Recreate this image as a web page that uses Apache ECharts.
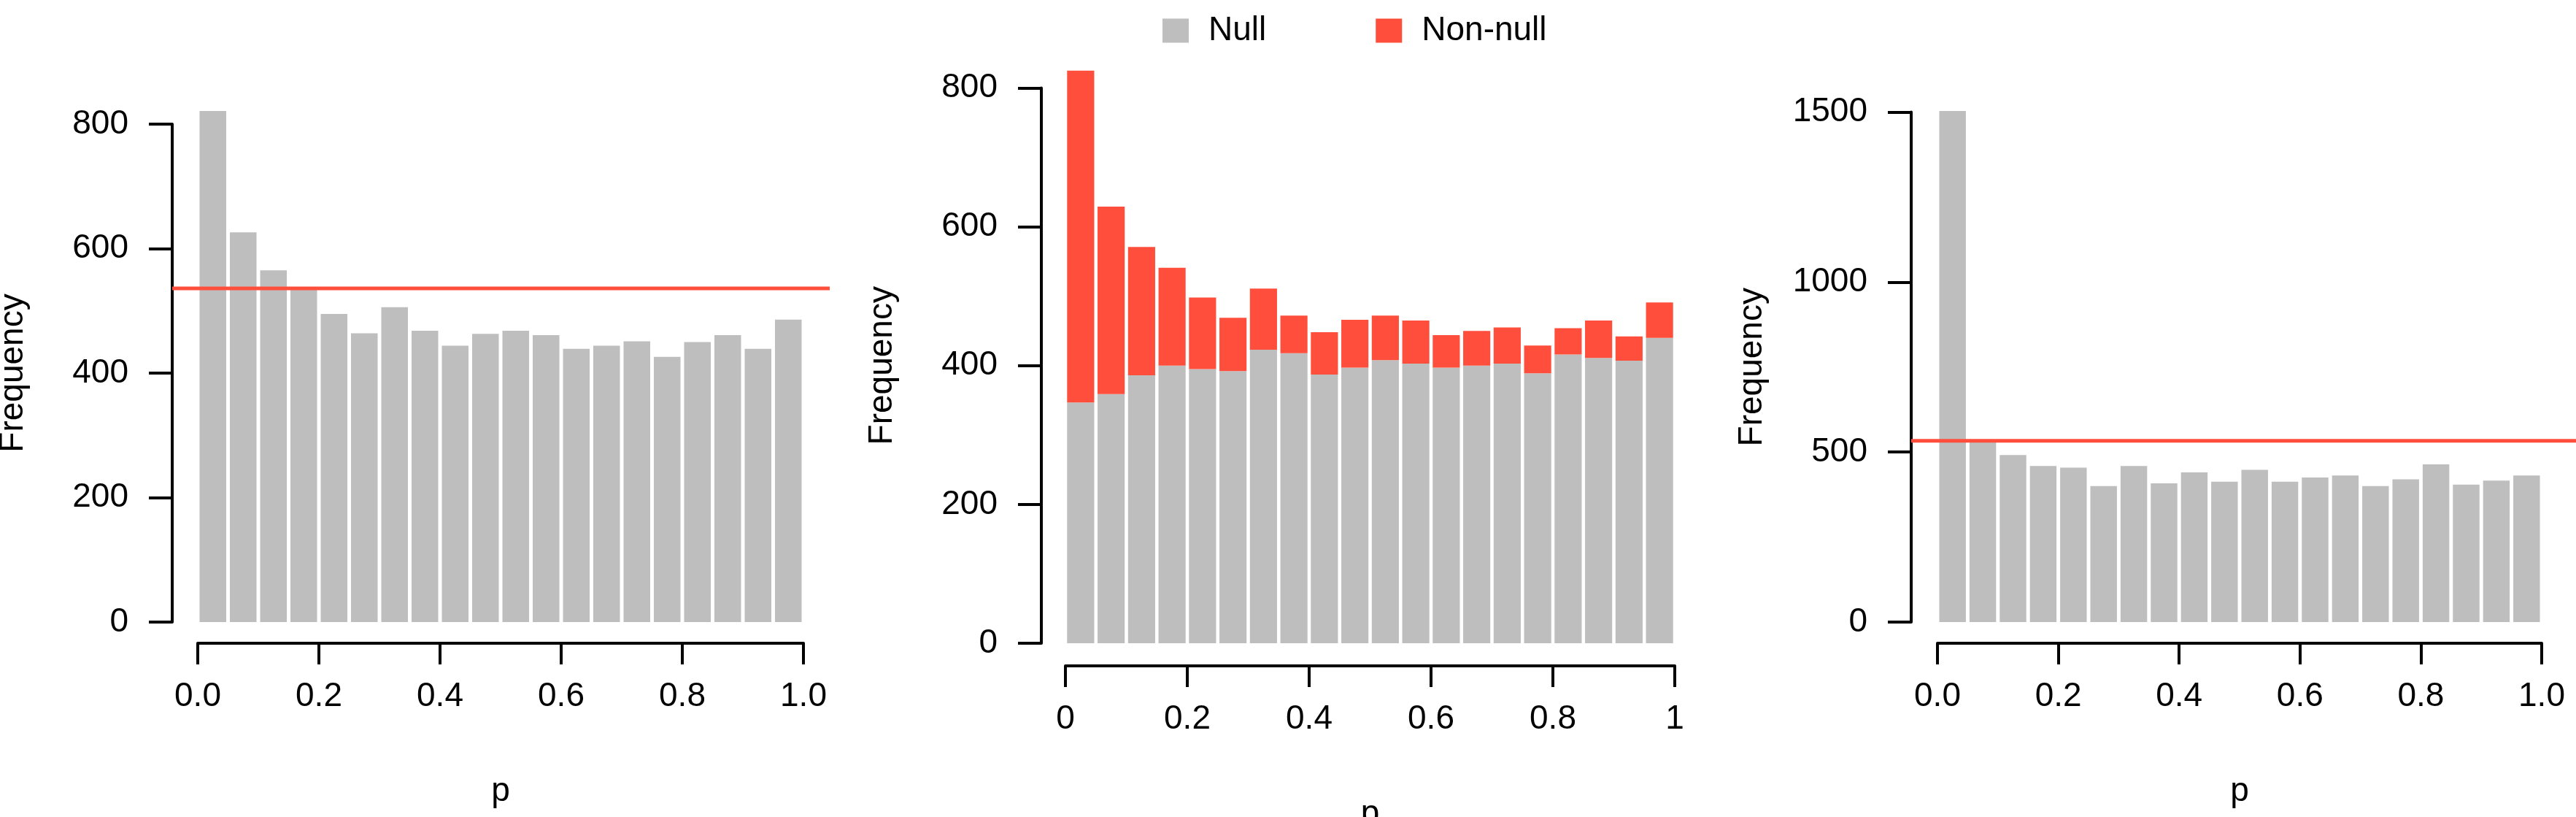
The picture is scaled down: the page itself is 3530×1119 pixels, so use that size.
<!DOCTYPE html>
<html>
<head>
<meta charset="utf-8">
<script src="https://cdn.jsdelivr.net/npm/echarts@6/dist/echarts.min.js"></script>
<style>
  html, body { margin: 0; padding: 0; background: #fff; }
  #main { width: 3530px; height: 1119px; }
</style>
</head>
<body>
<div id="main"></div>
<script>
// ---------- data
var bins = ["1","2","3","4","5","6","7","8","9","10","11","12","13","14","15","16","17","18","19","20"];
var left_freq = [821, 626, 565, 538, 495, 464, 506, 468, 444, 463, 468, 461, 439, 444, 451, 426, 450, 461, 439, 486];
var mid_null = [347, 359, 386, 400, 395, 392, 423, 418, 387, 397, 408, 403, 397, 400, 403, 389, 416, 411, 407, 440];
var mid_total = [825, 629, 571, 541, 498, 469, 511, 472, 448, 466, 472, 465, 444, 450, 455, 429, 454, 465, 442, 491];
var right_freq = [1503, 530, 491, 459, 454, 400, 459, 408, 440, 413, 448, 413, 425, 431, 400, 420, 464, 404, 416, 431];
var left_line = 536;
var right_line = 533;
var mid_nonnull = mid_total.map(function (t, i) { return t - mid_null[i]; });

var GREY = "#bebebe";
var RED = "#ff4f3c";
var FONT = "Liberation Sans";
var FS = 46;

// panels: bar grid extents (px), y axis line x, x axis line y, red line extent
var panels = [
  { l: 271, r: 1101, t: 170, b: 852, yAxisX: 236, xAxisY: 881, max: 800, interval: 200, lineEnd: 1137, fmt: "fixed" },
  { l: 1460, r: 2295, t: 120.5, b: 881, yAxisX: 1427, xAxisY: 912, max: 800, interval: 200, lineEnd: null, fmt: "plain" },
  { l: 2655, r: 3483, t: 153.5, b: 852, yAxisX: 2619, xAxisY: 881, max: 1500, interval: 500, lineEnd: 3530, fmt: "fixed" }
];

var grid = [], xAxis = [], yAxis = [], series = [];

panels.forEach(function (p, k) {
  var gi = grid.length;
  grid.push({ left: p.l, width: p.r - p.l, top: p.t, height: p.b - p.t, containLabel: false, outerBoundsMode: "none" });
  // category axis for bars (hidden)
  var xc = xAxis.length;
  xAxis.push({ type: "category", gridIndex: gi, data: bins, show: false, position: "bottom" });
  // value axis for p ticks
  xAxis.push({
    type: "value", gridIndex: gi, min: 0, max: 1, interval: 0.2, position: "bottom",
    offset: p.xAxisY - p.b,
    axisLine: { show: true, onZero: false, lineStyle: { color: "#000", width: 4 } },
    axisTick: { show: true, length: 29, lineStyle: { color: "#000", width: 4 } },
    axisLabel: {
      margin: 50, color: "#000", fontFamily: FONT, fontSize: FS,
      formatter: function (v) { return p.fmt === "fixed" ? v.toFixed(1) : String(+v.toFixed(1)); }
    },
    splitLine: { show: false },
    name: "p", nameLocation: "middle", nameGap: 180,
    nameTextStyle: { color: "#000", fontFamily: FONT, fontSize: FS }
  });
  var yi = yAxis.length;
  yAxis.push({
    type: "value", gridIndex: gi, min: 0, max: p.max, interval: p.interval, position: "left",
    offset: p.l - p.yAxisX,
    axisLine: { show: true, onZero: false, lineStyle: { color: "#000", width: 4 } },
    axisTick: { show: true, length: 32, lineStyle: { color: "#000", width: 4 } },
    axisLabel: { margin: 60, color: "#000", fontFamily: FONT, fontSize: FS, formatter: function (v) { return String(v); } },
    splitLine: { show: false },
    name: "Frequency", nameLocation: "middle", nameGap: 195,
    nameRotate: 90,
    nameTextStyle: { color: "#000", fontFamily: FONT, fontSize: FS }
  });

  if (k === 1) {
    series.push({
      name: "Null", type: "bar", stack: "m", xAxisIndex: xc, yAxisIndex: yi,
      data: mid_null, barCategoryGap: "11%", clip: false,
      itemStyle: { color: GREY }
    });
    series.push({
      name: "Non-null", type: "bar", stack: "m", xAxisIndex: xc, yAxisIndex: yi,
      data: mid_nonnull, barCategoryGap: "11%", clip: false,
      itemStyle: { color: RED }
    });
  } else {
    series.push({
      type: "bar", xAxisIndex: xc, yAxisIndex: yi,
      data: k === 0 ? left_freq : right_freq, barCategoryGap: "12%", clip: false,
      itemStyle: { color: GREY }
    });
  }

  // red reference line in its own grid, reaching from the y axis
  if (p.lineEnd) {
    var g2 = grid.length;
    grid.push({ left: p.yAxisX, width: p.lineEnd - p.yAxisX, top: p.t, height: p.b - p.t, containLabel: false, outerBoundsMode: "none" });
    var xl = xAxis.length;
    xAxis.push({ type: "value", gridIndex: g2, min: 0, max: 1, show: false });
    var yl = yAxis.length;
    yAxis.push({ type: "value", gridIndex: g2, min: 0, max: p.max, show: false });
    var lv = k === 0 ? left_line : right_line;
    series.push({
      type: "line", xAxisIndex: xl, yAxisIndex: yl, symbol: "none", z: 5,
      data: [[0, lv], [1, lv]],
      lineStyle: { color: RED, width: 5 }
    });
  }
});

var myChart = echarts.init(document.getElementById("main"));
myChart.setOption({
  animation: false,
  backgroundColor: "#fff",
  legend: {
    data: ["Null", "Non-null"],
    left: 1588, top: 14,
    itemWidth: 36, itemHeight: 33, itemGap: 150,
    icon: "rect",
    textStyle: { color: "#000", fontFamily: FONT, fontSize: FS, padding: [0, 0, 0, 22] }
  },
  grid: grid,
  xAxis: xAxis,
  yAxis: yAxis,
  series: series
});
</script>
</body>
</html>
